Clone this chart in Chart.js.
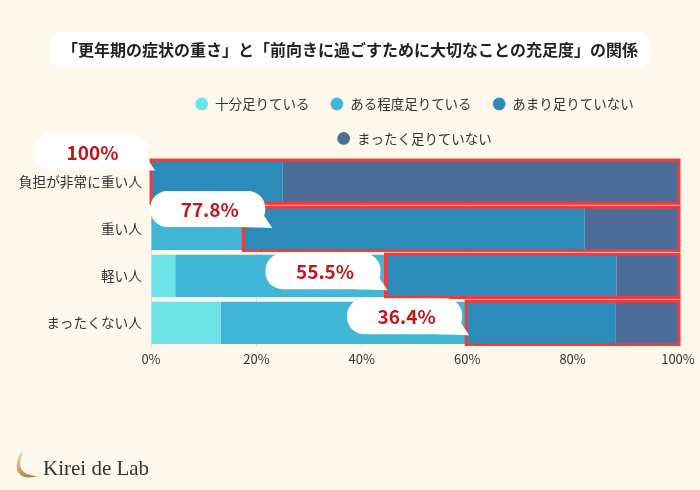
<!DOCTYPE html>
<html lang="ja">
<head>
<meta charset="utf-8">
<script src="https://cdn.jsdelivr.net/npm/chart.js@4"></script>
<style>
  html, body { margin: 0; padding: 0; background: #fdf8ec; }
  #wrap { width: 700px; height: 490px; position: relative; }
</style>
</head>
<body>
<div id="wrap"><canvas id="myChart" width="700" height="490"></canvas></div>
<script>
const categories = ['負担が非常に重い人', '重い人', '軽い人', 'まったくない人'];
const seriesNames = ['十分足りている', 'ある程度足りている', 'あまり足りていない', 'まったく足りていない'];
const enough = [0, 0, 4.6, 13.2];
const somewhat = [0, 17.5, 39.9, 46.6];
const notMuch = [25.0, 64.8, 43.8, 28.4];
const notAtAll = [75.0, 17.7, 11.7, 11.8];
const calloutLabels = ['100%', '77.8%', '55.5%', '36.4%'];
const xTicks = [0, 20, 40, 60, 80, 100];

const titleText = '「更年期の症状の重さ」と「前向きに過ごすために大切なことの充足度」の関係';
const colors = ['#6ce4e7', '#41b6d6', '#2d8bba', '#4e6c98'];
const FONT = '"Noto Sans CJK JP", "Noto Sans", sans-serif';

// bubble placement relative to the red box (px): right edge offset, centre offset from bar top
const bubbleDx = [-3, 22, -5, -4];
const bubbleDy = [-9, 1.5, 16.5, 14.5];

function roundRect(ctx, x, y, w, h, r) {
	ctx.beginPath();
	ctx.moveTo(x + r, y);
	ctx.arcTo(x + w, y, x + w, y + h, r);
	ctx.arcTo(x + w, y + h, x, y + h, r);
	ctx.arcTo(x, y + h, x, y, r);
	ctx.arcTo(x, y, x + w, y, r);
	ctx.closePath();
}

const decorPlugin = {
	id: 'decor',
	afterInit(chart) {
		const legend = chart.legend;
		const fit = legend.fit;
		legend.fit = function () {
			fit.call(this);
			this.height = 82;
		};
	},
	afterLayout(chart) {
		// centre the title on the whole canvas
		chart.titleBlock.left = 0;
		chart.titleBlock.right = chart.width;
	},
	beforeDraw(chart) {
		const ctx = chart.ctx;
		ctx.save();
		ctx.fillStyle = '#fdf8ec';
		ctx.fillRect(0, 0, chart.width, chart.height);
		// white box behind title
		ctx.font = 'bold 16px ' + FONT;
		const tw = ctx.measureText(titleText).width;
		const cx = chart.width / 2;
		ctx.fillStyle = '#ffffff';
		roundRect(ctx, cx - tw / 2 - 12, 32, tw + 24, 35, 10);
		ctx.fill();
		ctx.restore();
	},
	afterDatasetsDraw(chart) {
		const ctx = chart.ctx;
		const xs = chart.scales.x;
		const meta = chart.getDatasetMeta(2);
		ctx.save();
		// red frames around the "not enough" part
		ctx.strokeStyle = '#f23a3a';
		ctx.lineWidth = 3;
		const boxes = [];
		categories.forEach((c, i) => {
			const bar = meta.data[i];
			const x0 = xs.getPixelForValue(enough[i] + somewhat[i]);
			const x1 = xs.getPixelForValue(100);
			const top = bar.y - bar.height / 2;
			ctx.strokeRect(x0, top - 0.5, x1 - x0 + 1, bar.height + 1);
			boxes.push({ x0, top });
		});
		// speech bubbles
		const bw = 115, bh = 36;
		boxes.forEach((b, i) => {
			const right = b.x0 + bubbleDx[i];
			const cy = b.top + bubbleDy[i];
			const left = right - bw;
			const top = cy - bh / 2;
			const bottom = top + bh;
			ctx.fillStyle = '#ffffff';
			roundRect(ctx, left, top, bw, bh, 17);
			ctx.fill();
			ctx.beginPath();
			ctx.moveTo(right - 24, bottom);
			ctx.lineTo(right + 7, bottom + 1);
			ctx.lineTo(right - 3, bottom - 14);
			ctx.closePath();
			ctx.fill();
			ctx.fillStyle = '#c1151e';
			ctx.font = 'bold 19px ' + FONT;
			ctx.textAlign = 'center';
			ctx.textBaseline = 'middle';
			ctx.fillText(calloutLabels[i], left + bw / 2 + 2, cy + 1);
		});
		ctx.restore();
	},
	afterDraw(chart) {
		const ctx = chart.ctx;
		ctx.save();
		// logo mark
		const g = ctx.createLinearGradient(16, 452, 36, 478);
		g.addColorStop(0, '#ecd2a8');
		g.addColorStop(1, '#a46f38');
		ctx.fillStyle = g;
		ctx.beginPath();
		ctx.moveTo(23, 451);
		ctx.quadraticCurveTo(13, 475, 37, 476);
		ctx.quadraticCurveTo(22, 481, 17, 470);
		ctx.quadraticCurveTo(15, 460, 23, 451);
		ctx.closePath();
		ctx.fill();
		ctx.fillStyle = '#333333';
		ctx.font = '21px "Liberation Serif", "DejaVu Serif", serif';
		ctx.textBaseline = 'alphabetic';
		ctx.fillText('Kirei de Lab', 43, 475);
		ctx.restore();
	}
};

const dataSeries = [enough, somewhat, notMuch, notAtAll];
const data = {
	labels: categories,
	datasets: seriesNames.map((name, i) => ({
		label: name,
		data: dataSeries[i],
		backgroundColor: colors[i],
		borderWidth: 0,
		barPercentage: 0.9,
		categoryPercentage: 1.0
	}))
};

const config = {
	type: 'bar',
	data,
	options: {
		indexAxis: 'y',
		responsive: false,
		animation: false,
		layout: { padding: { left: 0, right: 22, top: 0, bottom: 118 } },
		plugins: {
			title: {
				display: true,
				text: titleText,
				color: '#222222',
				font: { family: FONT, size: 16, weight: 'bold' },
				padding: { top: 40, bottom: 17 }
			},
			legend: {
				fullSize: false,
				labels: {
					usePointStyle: true,
					pointStyle: 'circle',
					boxWidth: 13,
					boxHeight: 9,
					padding: 21,
					color: '#333333',
					font: { family: FONT, size: 13.5 }
				}
			},
			tooltip: { enabled: false }
		},
		scales: {
			x: {
				stacked: true,
				min: 0,
				max: 100,
				afterBuildTicks(scale) {
					scale.ticks = xTicks.map(v => ({ value: v }));
				},
				ticks: {
					color: '#333333',
					font: { family: FONT, size: 13 },
					padding: 5,
					callback: v => v + '%'
				},
				grid: { color: '#dcdcdc', drawTicks: false },
				border: { display: false }
			},
			y: {
				stacked: true,
				afterFit(scale) { scale.width = 151; },
				ticks: {
					color: '#333333',
					font: { family: FONT, size: 13.7 },
					padding: 9
				},
				grid: { display: false, drawTicks: false },
				border: { display: true, color: '#dcdcdc' }
			}
		}
	},
	plugins: [decorPlugin]
};

var myChart = new Chart(document.getElementById('myChart'), config);
</script>
</body>
</html>
